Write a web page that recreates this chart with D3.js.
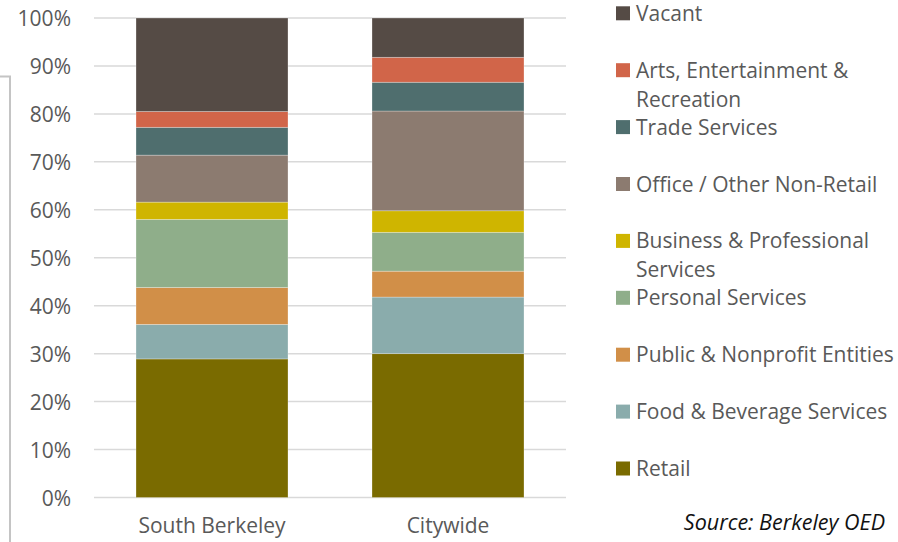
<!DOCTYPE html>
<html>
<head>
<meta charset="utf-8">
<script src="https://cdn.jsdelivr.net/npm/d3@7"></script>
<style>
  html, body { margin: 0; padding: 0; background: #fff; }
  svg { display: block; font-family: "Open Sans", "Noto Sans", sans-serif; }
</style>
</head>
<body>
<svg id="chart" width="898" height="542"></svg>
<script>
// ---- Data (percent of ground-floor storefronts) ----
const categories = ["South Berkeley", "Citywide"];
const seriesNames = [
  "Retail",
  "Food & Beverage Services",
  "Public & Nonprofit Entities",
  "Personal Services",
  "Business & Professional Services",
  "Office / Other Non-Retail",
  "Trade Services",
  "Arts, Entertainment & Recreation",
  "Vacant"
];
const southBerkeley = [28.9, 7.2, 7.7, 14.2, 3.6, 9.8, 5.8, 3.3, 19.5];
const citywide      = [30.0, 11.8, 5.4, 8.1, 4.5, 20.8, 6.0, 5.2, 8.2];
const seriesColors = ["#7a6b00", "#8aacac", "#d18f48", "#8fae8a", "#cfb500", "#8c7b70", "#4f6e6e", "#d16549", "#554b45"];
const yTicks = [0, 10, 20, 30, 40, 50, 60, 70, 80, 90, 100];
// legend order (top to bottom) with wrapped lines
const legendOrder = [8, 7, 6, 5, 4, 3, 2, 1, 0];
const legendLines = {
  8: ["Vacant"],
  7: ["Arts, Entertainment &", "Recreation"],
  6: ["Trade Services"],
  5: ["Office / Other Non-Retail"],
  4: ["Business & Professional", "Services"],
  3: ["Personal Services"],
  2: ["Public & Nonprofit Entities"],
  1: ["Food & Beverage Services"],
  0: ["Retail"]
};
const sourceText = "Source: Berkeley OED";

// ---- Build stacked table ----
const valuesByCat = [southBerkeley, citywide];
const table = categories.map((c, i) => {
  const row = { category: c };
  seriesNames.forEach((s, j) => row[s] = valuesByCat[i][j]);
  return row;
});
const stacked = d3.stack().keys(seriesNames)(table);

const svg = d3.select("#chart");

// decorative border fragment at far left
svg.append("path")
  .attr("d", "M0,76.5 H10 V542")
  .attr("fill", "none")
  .attr("stroke", "#c4c4c4")
  .attr("stroke-width", 2);

const x = d3.scaleBand().domain(categories).range([94, 566]).paddingInner(0.356).paddingOuter(0.178);
const y = d3.scaleLinear().domain([0, 100]).range([497.5, 18]);

// gridlines
svg.append("g").selectAll("line").data(yTicks).join("line")
  .attr("x1", 94).attr("x2", 566)
  .attr("y1", d => y(d)).attr("y2", d => y(d))
  .attr("stroke", "#d9d9d9").attr("stroke-width", 1.5);

// y axis labels
const yAxis = d3.axisLeft(y).tickValues(yTicks).tickFormat(d => d + "%").tickSize(0).tickPadding(0);
const gy = svg.append("g").attr("transform", "translate(71,0)").call(yAxis);
gy.select(".domain").remove();
gy.selectAll("text").attr("font-size", 21).attr("fill", "#595959").attr("dy", "0.38em")
  .attr("font-family", "'Open Sans', sans-serif");

// bars
svg.append("g").selectAll("g").data(stacked).join("g")
  .attr("fill", (d, i) => seriesColors[i])
  .selectAll("rect").data(d => d).join("rect")
  .attr("x", d => x(d.data.category))
  .attr("width", x.bandwidth())
  .attr("y", d => y(d[1]))
  .attr("height", d => y(d[0]) - y(d[1]))
  .attr("stroke", "rgba(255,255,255,0.35)")
  .attr("stroke-width", 0.8);

// x axis labels
const xAxis = d3.axisBottom(x).tickSize(0).tickPadding(0);
const gx = svg.append("g").attr("transform", "translate(0,533)").call(xAxis);
gx.select(".domain").remove();
gx.selectAll("text").attr("font-size", 21).attr("fill", "#595959")
  .attr("font-family", "'Open Sans', sans-serif").attr("dy", "0");

// legend
const legendTop = 13.3, legendStep = 56.9;
const lg = svg.append("g");
legendOrder.forEach((si, k) => {
  const cy = legendTop + k * legendStep;
  lg.append("rect").attr("x", 616).attr("y", cy - 7).attr("width", 14).attr("height", 14)
    .attr("fill", seriesColors[si]);
  legendLines[si].forEach((t, li) => {
    lg.append("text").attr("x", 636).attr("y", cy + li * 29)
      .attr("dy", "0.36em").attr("font-size", 21).attr("fill", "#595959").text(t);
  });
});

// source
svg.append("text").attr("x", 885).attr("y", 522).attr("dy", "0.36em")
  .attr("text-anchor", "end").attr("font-style", "italic").attr("font-size", 21.5)
  .attr("fill", "#111").text(sourceText);
</script>
</body>
</html>
